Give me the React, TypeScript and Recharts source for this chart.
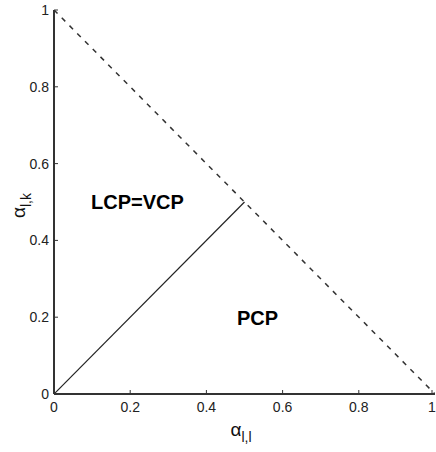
import React from 'react';
import { LineChart, Line, XAxis, YAxis, ReferenceDot } from 'recharts';

// Data
const boundaryX = [0, 1];
const boundaryY = [1, 0];
const diagX = [0, 0.5];
const diagY = [0, 0.5];
const tickValues = [0, 0.2, 0.4, 0.6, 0.8, 1];
const tickLabels = ['0', '0.2', '0.4', '0.6', '0.8', '1'];
const regionNames = ['LCP=VCP', 'PCP'];
const regionX = [0.219, 0.534];
const regionY = [0.499, 0.199];

const boundaryData = boundaryX.map((x, i) => ({ x, y: boundaryY[i] }));
const diagData = diagX.map((x, i) => ({ x, y: diagY[i] }));

const W = 436;
const H = 452;
const LEFT = 54;
const TOP = 10;
const BOTTOM = 394;
const AX = '#333';
const FONT = 'Arial, "Liberation Sans", Helvetica, sans-serif';

const labelFor = (v: number) => {
  const i = tickValues.findIndex((t) => Math.abs(t - v) < 1e-9);
  return i >= 0 ? tickLabels[i] : String(v);
};

const YTick = (props: any) => {
  const { y, payload } = props;
  return (
    <g>
      <line x1={LEFT} x2={LEFT + 4} y1={y} y2={y} stroke={AX} strokeWidth={1} />
      <text x={LEFT - 5} y={y} textAnchor="end" dominantBaseline="central" fontSize={14} fill="#222" fontFamily={FONT}>
        {labelFor(payload.value)}
      </text>
    </g>
  );
};

const XTick = (props: any) => {
  const { x, payload } = props;
  return (
    <g>
      <line x1={x} x2={x} y1={BOTTOM} y2={BOTTOM - 4} stroke={AX} strokeWidth={1} />
      <text x={x} y={BOTTOM + 13} textAnchor="middle" dominantBaseline="central" fontSize={14} fill="#222" fontFamily={FONT}>
        {labelFor(payload.value)}
      </text>
    </g>
  );
};

const XLabel = (props: any) => {
  const vb = props.viewBox || { x: LEFT, y: BOTTOM, width: 381 };
  const cx = vb.x + vb.width / 2;
  return (
    <text x={cx - 14} y={BOTTOM + 42} fontFamily={FONT} fill="#111">
      <tspan fontSize={19}>α</tspan>
      <tspan fontSize={14} dy={6}>l,l</tspan>
    </text>
  );
};

const YLabel = () => {
  const cx = 25;
  const cy = 218;
  return (
    <text x={cx} y={cy} transform={`rotate(-90 ${cx} ${cy})`} fontFamily={FONT} fill="#111">
      <tspan fontSize={19}>α</tspan>
      <tspan fontSize={14} dy={6}>l,k</tspan>
    </text>
  );
};

const regionLabel = (name: string) => (props: any) => {
  const vb = props.viewBox;
  return (
    <text x={vb.x + (vb.width || 0) / 2} y={vb.y + (vb.height || 0) / 2} textAnchor="middle" dominantBaseline="central" fontSize={20} fontWeight="bold" fill="#000" fontFamily={FONT}>
      {name}
    </text>
  );
};

export default function App() {
  return (
    <div style={{ position: 'absolute', left: 0, top: 0, width: W, height: H, background: '#fff' }}>
      <LineChart width={W} height={H} margin={{ top: TOP, right: 1, bottom: 0, left: 0 }}>
        <XAxis
          type="number"
          dataKey="x"
          domain={[0, 1]}
          ticks={tickValues}
          height={H - BOTTOM}
          tick={<XTick />}
          tickLine={false}
          axisLine={{ stroke: AX, strokeWidth: 2 }}
          allowDataOverflow
          label={<XLabel />}
        />
        <YAxis
          type="number"
          dataKey="y"
          domain={[0, 1]}
          ticks={tickValues}
          width={LEFT}
          tick={<YTick />}
          tickLine={false}
          axisLine={{ stroke: AX, strokeWidth: 2 }}
          allowDataOverflow
          label={<YLabel />}
        />
        <Line data={boundaryData} dataKey="y" stroke="#333" strokeWidth={1.5} strokeDasharray="5 6" dot={false} isAnimationActive={false} />
        <Line data={diagData} dataKey="y" stroke="#222" strokeWidth={1.2} dot={false} isAnimationActive={false} />
        {regionNames.map((n, i) => (
          <ReferenceDot key={n} x={regionX[i]} y={regionY[i]} r={0.01} fill="none" stroke="none" label={regionLabel(n)} />
        ))}
      </LineChart>
    </div>
  );
}
